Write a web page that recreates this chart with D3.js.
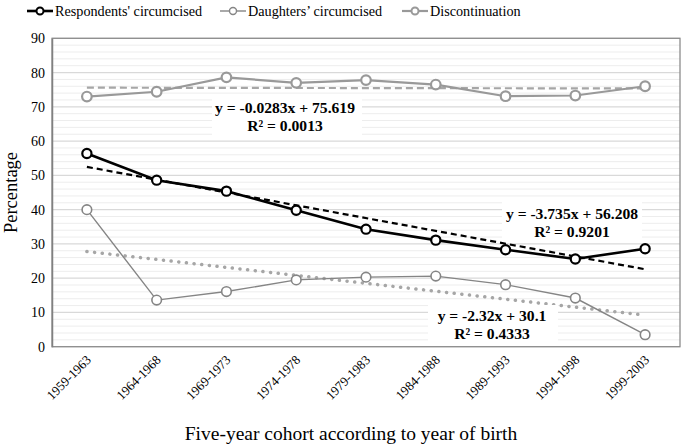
<!DOCTYPE html>
<html>
<head>
<meta charset="utf-8">
<script src="https://cdn.jsdelivr.net/npm/d3@7"></script>
<style>
  html, body { margin: 0; padding: 0; background: #fff; }
</style>
</head>
<body>
<svg id="chart" width="685" height="446"></svg>
<script>
const categories = ["1959-1963","1964-1968","1969-1973","1974-1978","1979-1983","1984-1988","1989-1993","1994-1998","1999-2003"];
const respondents = [56.4, 48.6, 45.4, 39.8, 34.3, 31.1, 28.3, 25.6, 28.6];
const daughters = [40.0, 13.6, 16.1, 19.5, 20.3, 20.6, 18.1, 14.2, 3.5];
const discontinuation = [73.0, 74.4, 78.6, 77.0, 77.8, 76.5, 73.1, 73.3, 76.0];
const seriesNames = ["Respondents' circumcised", "Daughters\u2019 circumcised", "Discontinuation"];
const yTicks = [0, 10, 20, 30, 40, 50, 60, 70, 80, 90];
// trend coefficients [slope, intercept] as shown in the chart
const trendRespondents = [-3.735, 56.208];
const trendDaughters = [-2.32, 30.1];
const trendDiscontinuation = [-0.0283, 75.619];
const trendLabels = [
  ["y = -3.735x + 56.208", "R\u00B2 = 0.9201"],
  ["y = -2.32x + 30.1", "R\u00B2 = 0.4333"],
  ["y = -0.0283x + 75.619", "R\u00B2 = 0.0013"]
];

const FONT = "'Liberation Serif'";
const svg = d3.select("#chart");
const L = 52, R = 680, T = 38.3, B = 346.7;
const x = d3.scaleBand().domain(categories).range([L, R]).padding(0);
const cx = c => x(c) + x.bandwidth() / 2;
const y = d3.scaleLinear().domain([0, 90]).range([B, T]);

// minor gridlines
const minor = d3.range(0, 91, 2).filter(v => v % 10 !== 0);
svg.append("g").selectAll("line").data(minor).join("line")
  .attr("x1", L).attr("x2", R).attr("y1", d => y(d)).attr("y2", d => y(d))
  .attr("stroke", "#ededed").attr("stroke-width", 1);
// major gridlines
svg.append("g").selectAll("line").data(yTicks).join("line")
  .attr("x1", L).attr("x2", R).attr("y1", d => y(d)).attr("y2", d => y(d))
  .attr("stroke", "#d9d9d9").attr("stroke-width", 1.3);

// plot border
svg.append("rect").attr("x", L).attr("y", T).attr("width", R - L).attr("height", B - T)
  .attr("fill", "none").attr("stroke", "#8c8c8c").attr("stroke-width", 1.3);

// y axis
const yAxis = d3.axisLeft(y).tickValues(yTicks).tickSize(0).tickPadding(7);
const gy = svg.append("g").attr("transform", `translate(${L},0)`).call(yAxis);
gy.select(".domain").attr("stroke", "#808080").attr("stroke-width", 1.5);
gy.selectAll("text").style("font-family", FONT).style("font-size", "14px").attr("fill", "#000");

// x axis labels
const xAxis = d3.axisBottom(x).tickSize(0).tickPadding(0);
const gx = svg.append("g").attr("transform", `translate(0,${B})`).call(xAxis);
gx.select(".domain").remove();
gx.selectAll("text")
  .style("font-family", FONT).style("font-size", "13px").attr("fill", "#000")
  .attr("text-anchor", "end")
  .attr("dy", "0")
  .attr("transform", "translate(5,14) rotate(-45)");

// axis titles
svg.append("text").attr("x", 351).attr("y", 440).attr("text-anchor", "middle")
  .style("font-family", FONT).style("font-size", "19.5px").text("Five-year cohort according to year of birth");
svg.append("text").attr("transform", `translate(17,${(T + B) / 2}) rotate(-90)`)
  .style("font-family", FONT).attr("text-anchor", "middle").style("font-size", "18.5px").text("Percentage");

// trend lines
const trendLine = (coef) => [1, categories.length].map(i => [cx(categories[i - 1]), y(coef[0] * i + coef[1])]);
const lineGen = d3.line();
svg.append("path").attr("d", lineGen(trendLine(trendDiscontinuation)))
  .attr("stroke", "#a6a6a6").attr("stroke-width", 2.2).attr("stroke-dasharray", "7,4").attr("fill", "none");
svg.append("path").attr("d", lineGen(trendLine(trendDaughters)))
  .attr("stroke", "#a6a6a6").attr("stroke-width", 3.5).attr("stroke-dasharray", "0.1,7.6")
  .attr("stroke-linecap", "round").attr("fill", "none");
svg.append("path").attr("d", lineGen(trendLine(trendRespondents)))
  .attr("stroke", "#000").attr("stroke-width", 2.2).attr("stroke-dasharray", "6,4").attr("fill", "none");

// series
const series = [
  { data: discontinuation, color: "#999999", width: 2.2, r: 4.8 },
  { data: daughters, color: "#858585", width: 1.4, r: 4.8 },
  { data: respondents, color: "#000000", width: 2.6, r: 4.6 }
];
const line = d3.line().x((d, i) => cx(categories[i])).y(d => y(d));
series.forEach(s => {
  svg.append("path").attr("d", line(s.data)).attr("fill", "none")
    .attr("stroke", s.color).attr("stroke-width", s.width);
  svg.append("g").selectAll("circle").data(s.data).join("circle")
    .attr("cx", (d, i) => cx(categories[i])).attr("cy", d => y(d)).attr("r", s.r)
    .attr("fill", "#fff").attr("stroke", s.color).attr("stroke-width", s.width < 2 ? 1.6 : 2.2);
});

// trend labels
const labelPos = [
  { cx: 572, y1: 219, box: [502, 202, 140, 38] },
  { cx: 492, y1: 321, box: [428, 305, 130, 38] },
  { cx: 285, y1: 113, box: [212, 98, 150, 37] }
];
labelPos.forEach((p, i) => {
  svg.append("rect").attr("x", p.box[0]).attr("y", p.box[1]).attr("width", p.box[2]).attr("height", p.box[3])
    .attr("fill", "#fff");
  const t = svg.append("text").style("font-family", FONT).attr("text-anchor", "middle")
    .style("font-weight", "bold").style("font-size", "15.6px");
  t.append("tspan").attr("x", p.cx).attr("y", p.y1).text(trendLabels[i][0]);
  t.append("tspan").attr("x", p.cx).attr("y", p.y1 + 18).text(trendLabels[i][1]);
});

// legend
const legend = [
  { name: seriesNames[0], color: "#000", width: 2.6, x1: 27, tx: 55 },
  { name: seriesNames[1], color: "#858585", width: 1.4, x1: 220, tx: 248 },
  { name: seriesNames[2], color: "#999999", width: 2.2, x1: 402, tx: 430 }
];
const lg = svg.append("g");
legend.forEach(l => {
  lg.append("line").attr("x1", l.x1).attr("x2", l.x1 + 26).attr("y1", 11).attr("y2", 11)
    .attr("stroke", l.color).attr("stroke-width", l.width);
  lg.append("circle").attr("cx", l.x1 + 13).attr("cy", 11).attr("r", 3.5).attr("fill", "#fff")
    .attr("stroke", l.color).attr("stroke-width", l.width < 2 ? 1.4 : 2);
  lg.append("text").style("font-family", FONT).attr("x", l.tx).attr("y", 16).style("font-size", "14.2px").text(l.name);
});
</script>
</body>
</html>
